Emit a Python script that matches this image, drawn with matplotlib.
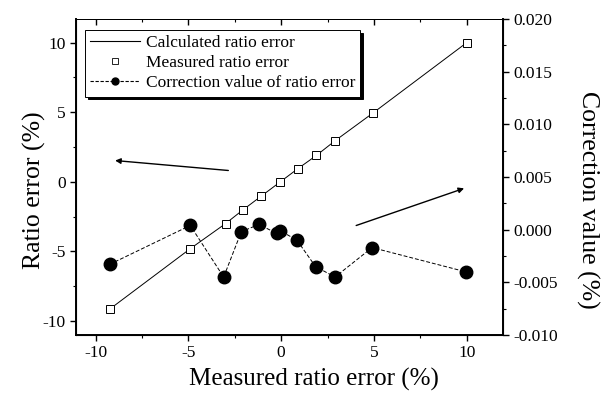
import matplotlib
matplotlib.use("Agg")
import matplotlib.pyplot as plt
from matplotlib.lines import Line2D
from matplotlib.ticker import MultipleLocator

plt.rcParams["font.family"] = ["Liberation Serif", "DejaVu Serif"]
plt.rcParams["axes.unicode_minus"] = False

# measured ratio error (%) on x, ratio error (%) on left y
measured_x = [-9.2, -4.9, -3.0, -2.05, -1.1, -0.05, 0.9, 1.9, 2.9, 4.95, 10.0]
measured_y = [-9.1, -4.8, -3.0, -2.0, -1.05, 0.0, 0.95, 1.9, 2.95, 4.95, 10.0]
calc_x = [-9.2, -4.9, -3.0, -2.05, -1.1, -0.05, 0.9, 1.9, 2.9, 4.95, 10.0]
calc_y = [-9.1, -4.8, -3.0, -2.0, -1.05, 0.0, 0.95, 1.9, 2.95, 4.95, 10.0]

# correction value (%) on right y
corr_x = [-9.25, -4.9, -3.1, -2.15, -1.2, -0.25, -0.05, 0.85, 1.85, 2.9, 4.9, 9.95]
corr_y = [-0.0033, 0.0004, -0.0045, -0.0002, 0.0005, -0.00035, -0.0001,
          -0.001, -0.0035, -0.0045, -0.0017, -0.004]

labels = ["Calculated ratio error", "Measured ratio error",
          "Correction value of ratio error"]

fig = plt.figure(figsize=(6.03, 3.99), dpi=100)
ax = fig.add_axes([0.126, 0.1604, 0.7077, 0.792])
ax2 = ax.twinx()

ax.plot(calc_x, calc_y, "-", color="black", lw=0.7, zorder=2)
ax.plot(measured_x, measured_y, "s", ms=6, mfc="white", mec="black",
        mew=0.7, ls="none", zorder=3)
ax2.plot(corr_x, corr_y, "--", color="black", lw=0.7, marker="o",
         ms=9, mfc="black", mec="black", dashes=(4, 2))

ax.set_xlim(-11.06, 11.94)
ax.set_ylim(-11.0, 11.7)
ax2.set_ylim(-0.010, 0.020)

ax.xaxis.set_major_locator(MultipleLocator(5))
ax.xaxis.set_minor_locator(MultipleLocator(2.5))
ax.yaxis.set_major_locator(MultipleLocator(5))
ax.yaxis.set_minor_locator(MultipleLocator(2.5))
ax2.yaxis.set_major_locator(MultipleLocator(0.005))
ax2.yaxis.set_minor_locator(MultipleLocator(0.0025))
ax2.yaxis.set_major_formatter(plt.FuncFormatter(lambda v, p: f"{v:.3f}"))

ax.tick_params(axis="both", which="major", direction="out", length=4,
               width=1, labelsize=12.5)
ax.tick_params(axis="both", which="minor", direction="out", length=2.5, width=0.8)
ax.tick_params(axis="x", which="both", top=True)
ax2.tick_params(axis="y", which="major", direction="out", length=4, width=1,
                labelsize=12.5)
ax2.tick_params(axis="y", which="minor", direction="out", length=2.5, width=0.8)

# top ticks point inward
for t in ax.xaxis.get_major_ticks() + ax.xaxis.get_minor_ticks():
    t.tick2line.set_marker(3)

for s in ["left", "bottom"]:
    ax.spines[s].set_linewidth(1.4)
ax2.spines["right"].set_linewidth(1.4)
ax.spines["top"].set_linewidth(0.7)
ax2.spines["top"].set_linewidth(0.7)

ax.set_xlabel("Measured ratio error (%)", fontsize=18)
ax.set_ylabel("Ratio error (%)", fontsize=18.5)
ax2.set_ylabel("Correction value (%)", fontsize=18.5, rotation=270)
ax.xaxis.set_label_coords(0.558, -0.105)
ax.yaxis.set_label_coords(-0.070, 0.459)
ax2.yaxis.set_label_coords(1.226, 0.427)

# direction arrows
ax.annotate("", xy=(-9.1, 1.55), xytext=(-2.7, 0.8),
            arrowprops=dict(arrowstyle="-|>", color="black", lw=1.0,
                            mutation_scale=8))
ax.annotate("", xy=(10.0, -0.4), xytext=(3.9, -3.2),
            arrowprops=dict(arrowstyle="-|>", color="black", lw=1.0,
                            mutation_scale=8))

handles = [
    Line2D([], [], color="black", lw=0.8),
    Line2D([], [], ls="none", marker="s", ms=4, mfc="white", mec="black", mew=0.6),
    Line2D([], [], color="black", lw=0.8, ls="--", dashes=(3, 1.5),
           marker="o", ms=5, mfc="black", mec="black"),
]
leg = ax.legend(handles, labels, loc="upper left", bbox_to_anchor=(0.021, 0.965),
                fontsize=12.5, frameon=True, fancybox=False,
                shadow={"color": "black", "alpha": 1.0}, borderpad=0.3,
                labelspacing=0.22, handlelength=2.9, handletextpad=0.3,
                borderaxespad=0.0)
leg.get_frame().set_edgecolor("black")
leg.get_frame().set_linewidth(0.7)
leg.set_zorder(5)
ax.set_zorder(ax2.get_zorder() + 1)
ax.patch.set_visible(False)

fig.savefig("out.png", dpi=100)
